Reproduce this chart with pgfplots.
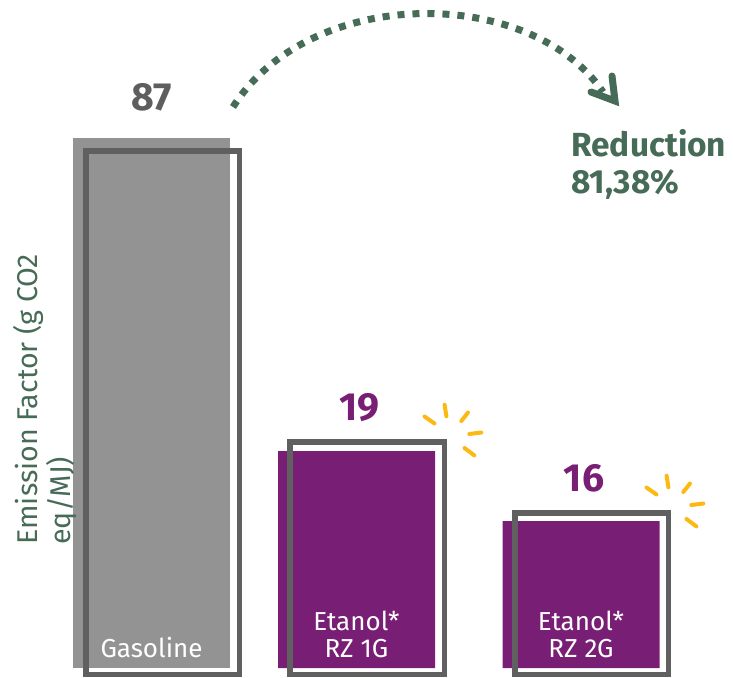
\documentclass[border=0pt]{standalone}
\usepackage{fontspec}
\setmainfont{Fira Sans}
\usepackage{pgfplots}
\pgfplotsset{compat=1.18}

\definecolor{gasgray}{HTML}{939393}
\definecolor{framegray}{HTML}{606060}
\definecolor{numgray}{HTML}{5E5E5E}
\definecolor{rzpurple}{HTML}{781E74}
\definecolor{redgreen}{HTML}{466B57}
\definecolor{sparkle}{HTML}{FDB913}

\begin{document}
\begin{tikzpicture}
% 1 px of the reference = 0.5pt; bar heights are the drawn heights, labels the printed values
\begin{axis}[
    at={(0,0)}, anchor=south west,
    x=0.5pt, y=3.046pt,
    xmin=0, xmax=733, ymin=-1.477, ymax=109.65,
    clip=false,
    axis on top,
    axis line style={draw=none},
    major tick length=0pt,
    ytick=\empty,
    xtick={151.5,356.5,581},
    xticklabels={Gasoline,{Etanol*\\RZ 1G},{Etanol*\\RZ 2G}},
    xticklabel style={align=center, text=white, anchor=south, inner sep=0pt,
      yshift=9.5pt, font=\fontsize{13}{13.5}\selectfont},
    ylabel={Emission Factor (g CO2\\eq/MJ)},
    ylabel style={at={(rel axis cs:0.0177,0.195)}, anchor=north west, align=left,
      inner sep=0pt, text=redgreen, font=\fontsize{14.3}{16.5}\selectfont},
  ]

  % filled bars
  \addplot[ybar, bar width=157, bar shift=0pt, fill=gasgray, draw=none,
    point meta=explicit symbolic, nodes near coords,
    nodes near coords style={inner sep=0pt, yshift=13pt, text=numgray,
      font=\fontsize{19.6}{20}\selectfont\bfseries}]
    coordinates {(151.5,87) [87]};

  \addplot[ybar, bar width=157, bar shift=0pt, fill=rzpurple, draw=none,
    point meta=explicit symbolic, nodes near coords,
    nodes near coords style={inner sep=0pt, yshift=14.5pt, xshift=1.5pt, text=rzpurple,
      font=\fontsize{19.6}{20}\selectfont\bfseries}]
    coordinates {(356.5,35.6) [19] (581,24.1) [16]};

  % offset frames
  \addplot[draw=framegray, line width=2.75pt, line join=miter]
    coordinates {(85.75,-1.07) (85.75,84.9) (239.25,84.9) (239.25,-1.07)} -- cycle;
  \addplot[draw=framegray, line width=2.75pt, line join=miter]
    coordinates {(289.75,-1.07) (289.75,37.14) (444.25,37.14) (444.25,-1.07)} -- cycle;
  \addplot[draw=framegray, line width=2.75pt, line join=miter]
    coordinates {(514.75,-1.07) (514.75,25.48) (668.25,25.48) (668.25,-1.07)} -- cycle;
\end{axis}

% decorations, in reference pixels
\begin{scope}[x=0.5pt, y=-0.5pt, shift={(0pt,338.5pt)}]
  \draw[redgreen, line width=3.5pt, dash pattern=on 3.5pt off 4pt]
    (233,107) .. controls (310,-15) and (530,-15) .. (603,92);
  \draw[redgreen, line width=3.5pt, line cap=round, line join=miter]
    (591,92) -- (615,101) -- (612,76);
  \node[anchor=north west, inner sep=0pt, align=left, text=redgreen,
    font=\fontsize{16.7}{18.5}\selectfont\bfseries] at (571,129) {Reduction\\81,38\%};

  \foreach \dx/\dy in {0/0, 222/71} {
    \begin{scope}[shift={(\dx,\dy)}, sparkle, line width=2pt, line cap=round]
      \draw (424.5,416.5) -- (434.5,423.5);
      \draw (444.6,404.7) -- (446.4,416.3);
      \draw (468,412.5) -- (461.3,421);
      \draw (469.3,434) -- (481.3,432.5);
      \draw (464.5,448) -- (474.3,455.4);
    \end{scope}
  }
\end{scope}

\pgfresetboundingbox
\path[use as bounding box] (0,0) rectangle (366.5pt,338.5pt);
\end{tikzpicture}
\end{document}
